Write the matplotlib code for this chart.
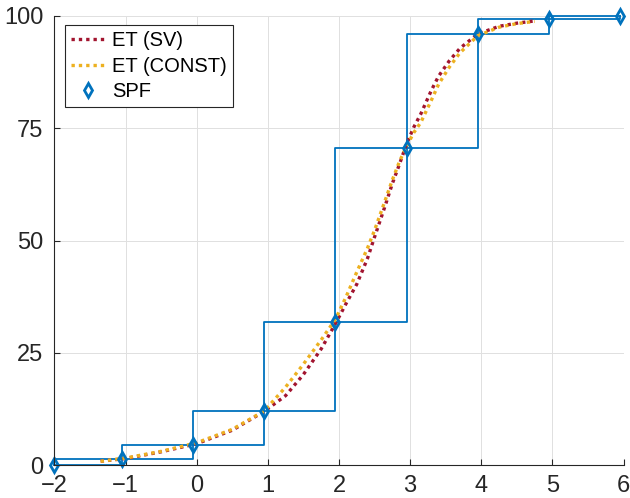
import matplotlib
matplotlib.use('Agg')
import matplotlib.pyplot as plt

# SPF quantile points
x_spf = [-2, -1.05, -0.05, 0.95, 1.95, 2.95, 3.95, 4.95, 5.95]
y_spf = [0, 1.4, 4.5, 12.1, 32.0, 70.7, 96.1, 99.3, 99.9]

# ET curves
x_et = [-1.35, -1.0, -0.5, 0.0, 0.5, 0.95, 1.25, 1.5, 1.75, 1.95, 2.1, 2.25,
        2.4, 2.5, 2.65, 2.75, 2.85, 2.95, 3.05, 3.15, 3.3, 3.4, 3.55, 3.7,
        3.95, 4.25, 4.5, 4.75]
y_sv = [0.9, 1.5, 3.0, 4.8, 7.8, 12.0, 15.5, 20.2, 25.9, 31.5, 36.0, 40.3,
        46.0, 50.8, 57.8, 62.7, 67.0, 71.5, 75.2, 78.2, 83.5, 86.6, 90.0, 92.8,
        96.0, 97.7, 98.4, 98.9]
y_const = [0.9, 1.6, 3.1, 5.0, 8.0, 12.1, 17.4, 22.5, 27.9, 32.5, 37.5, 43.0,
           48.3, 52.3, 59.0, 63.5, 67.6, 71.0, 74.0, 76.3, 81.3, 84.8, 88.6, 91.8,
           95.6, 97.5, 98.3, 98.8]

blue = '#0072BD'
red = '#A2142F'
yellow = '#EDB120'
dark = '#262626'

plt.rcParams['font.family'] = ['Liberation Sans', 'DejaVu Sans']

fig = plt.figure(figsize=(6.3, 4.98), dpi=100)
ax = fig.add_axes([0.0863, 0.0657, 0.9035, 0.9022])

# double staircase
ax.step(x_spf, y_spf, where='post', color=blue, lw=1.3, clip_on=False)
ax.step(x_spf, y_spf, where='pre', color=blue, lw=1.3, clip_on=False)

dots = (0, (1, 1.2))
l_sv, = ax.plot(x_et, y_sv, color=red, lw=2.4, linestyle=dots, label='ET (SV)')
l_const, = ax.plot(x_et, y_const, color=yellow, lw=2.4, linestyle=dots, label='ET (CONST)')
l_spf, = ax.plot(x_spf, y_spf, ls='none', marker='d', ms=7.5, mfc='none', mec=blue,
                 mew=2.0, clip_on=False, label='SPF')

ax.set_xlim(-2, 6)
ax.set_ylim(0, 100)
ax.set_xticks(range(-2, 7))
ax.set_yticks([0, 25, 50, 75, 100])

ax.spines['top'].set_visible(False)
ax.spines['right'].set_visible(False)
for s in ['left', 'bottom']:
    ax.spines[s].set_color(dark)
    ax.spines[s].set_linewidth(0.8)
ax.tick_params(direction='in', length=4, width=0.8, colors=dark, labelsize=17)
ax.tick_params(axis='y', pad=8)
ax.tick_params(axis='x', pad=7)

ax.grid(True, color='#e0e0e0', lw=0.7)
ax.set_axisbelow(True)

leg = ax.legend(handles=[l_sv, l_const, l_spf], loc='upper left',
                bbox_to_anchor=(0.0186, 0.98), borderaxespad=0,
                fontsize=14.5, fancybox=False, framealpha=1,
                edgecolor=dark, handlelength=1.7, handletextpad=0.35,
                labelspacing=0.33, borderpad=0.3)
leg.get_frame().set_linewidth(0.8)

fig.savefig('out.png', dpi=100)
